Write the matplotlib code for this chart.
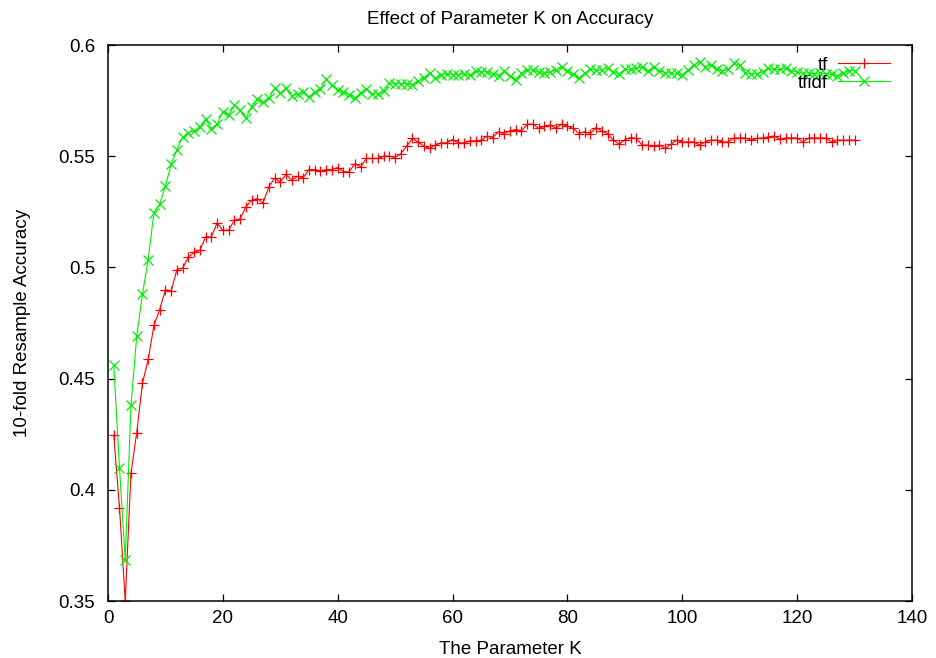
import matplotlib
matplotlib.use("Agg")
import matplotlib.pyplot as plt
from matplotlib.ticker import FuncFormatter

plt.rcParams['font.family'] = ['Liberation Sans', 'DejaVu Sans']

k_values = list(range(1, 131))

tf_acc = [
    0.4246, 0.392, 0.350, 0.4075, 0.4257, 0.448, 0.4586, 0.4739, 0.481, 0.490,
    0.4893, 0.499, 0.4997, 0.5046, 0.5068, 0.5077, 0.5137, 0.5137, 0.520, 0.5167,
    0.5167, 0.5212, 0.5218, 0.5272, 0.5302, 0.5309, 0.529, 0.5362, 0.5401, 0.5384,
    0.5418, 0.5392, 0.541, 0.5404, 0.544, 0.544, 0.5434, 0.544, 0.544, 0.5449,
    0.543, 0.543, 0.5467, 0.5452, 0.549, 0.549, 0.549, 0.550, 0.550, 0.5494,
    0.5512, 0.5545, 0.558, 0.5564, 0.5545, 0.5535, 0.555, 0.556, 0.556, 0.5575,
    0.556, 0.556, 0.5569, 0.5569, 0.5572, 0.559, 0.5584, 0.561, 0.5602, 0.5614,
    0.562, 0.5614, 0.5644, 0.5644, 0.5625, 0.5635, 0.564, 0.5625, 0.5644, 0.5635,
    0.5625, 0.5602, 0.561, 0.5602, 0.5629, 0.5614, 0.560, 0.5572, 0.5554, 0.5575,
    0.5584, 0.558, 0.555, 0.555, 0.5545, 0.555, 0.5535, 0.5553, 0.5572, 0.5564,
    0.5564, 0.5564, 0.555, 0.5564, 0.5572, 0.5572, 0.5564, 0.5564, 0.5582, 0.5582,
    0.5582, 0.5572, 0.558, 0.5582, 0.5587, 0.5591, 0.5577, 0.5582, 0.5582, 0.5582,
    0.5564, 0.5582, 0.5582, 0.5582, 0.5582, 0.5564, 0.5572, 0.5572, 0.5572, 0.5572,
]

tfidf_acc = [
    0.4563, 0.410, 0.3685, 0.438, 0.469, 0.488, 0.5035, 0.5246, 0.5284, 0.5365,
    0.5464, 0.553, 0.5587, 0.5605, 0.5614, 0.563, 0.5668, 0.5623, 0.5644, 0.570,
    0.5685, 0.5728, 0.5707, 0.567, 0.5722, 0.5755, 0.5743, 0.576, 0.5805, 0.5785,
    0.5805, 0.5771, 0.5779, 0.5788, 0.5767, 0.5788, 0.5803, 0.5846, 0.5818, 0.5797,
    0.5788, 0.5777, 0.576, 0.5786, 0.5803, 0.5781, 0.5779, 0.5792, 0.583, 0.5826,
    0.5826, 0.5826, 0.5822, 0.5837, 0.5852, 0.5874, 0.585, 0.5863, 0.5871, 0.5867,
    0.5867, 0.5871, 0.5863, 0.5881, 0.588, 0.588, 0.5868, 0.5862, 0.5883, 0.5862,
    0.5842, 0.5872, 0.5887, 0.5887, 0.5877, 0.5872, 0.588, 0.5887, 0.5902, 0.5883,
    0.5868, 0.585, 0.5872, 0.5892, 0.5887, 0.5887, 0.5898, 0.5878, 0.587, 0.589,
    0.589, 0.5895, 0.5902, 0.5884, 0.590, 0.5884, 0.5875, 0.5875, 0.5872, 0.5865,
    0.5887, 0.591, 0.5925, 0.5902, 0.591, 0.589, 0.5884, 0.589, 0.5917, 0.591,
    0.5875, 0.5869, 0.587, 0.588, 0.5895, 0.589, 0.589, 0.5895, 0.5884, 0.588,
    0.5872, 0.5875, 0.5869, 0.5875, 0.5869, 0.5869, 0.586, 0.5872, 0.5884, 0.5884,
]

x_ticks = [0, 20, 40, 60, 80, 100, 120, 140]
y_ticks = [0.35, 0.4, 0.45, 0.5, 0.55, 0.6]

FS = 13.5

fig = plt.figure(figsize=(9.36, 6.58), dpi=100)
ax = fig.add_axes([108/936, 1 - 601/658, (912 - 108)/936, (601 - 45)/658])

l_tf, = ax.plot(k_values, tf_acc, color='#ff0000', marker='+', markersize=7,
                markeredgewidth=0.9, linewidth=0.8, label='tf')
l_tfidf, = ax.plot(k_values, tfidf_acc, color='#00ee00', marker='x', markersize=6.5,
                   markeredgewidth=0.9, linewidth=0.8, label='tfidf')

ax.set_xlim(0, 140)
ax.set_ylim(0.35, 0.6)
ax.set_xticks(x_ticks)
ax.set_yticks(y_ticks)
ax.yaxis.set_major_formatter(FuncFormatter(lambda v, p: ('%g' % v)))
ax.tick_params(direction='in', length=5, width=0.9, top=True, right=True,
               labelsize=FS, colors='black')
ax.tick_params(axis='y', pad=9.3)
ax.tick_params(axis='x', pad=6.5)
for s in ax.spines.values():
    s.set_linewidth(1.1)

ax.set_title('Effect of Parameter K on Accuracy', fontsize=FS, pad=15)
ax.set_xlabel('The Parameter K', fontsize=FS, labelpad=10)
ax.set_ylabel('10-fold Resample Accuracy', fontsize=FS, labelpad=20)

common = dict(loc='center right', frameon=False, markerfirst=False, numpoints=1,
              handlelength=2.77, handletextpad=0.53, fontsize=FS,
              borderaxespad=0, borderpad=0)
leg1 = ax.legend(handles=[l_tf], bbox_to_anchor=(0.9726, 0.9640), **common)
ax.add_artist(leg1)
leg2 = ax.legend(handles=[l_tfidf], bbox_to_anchor=(0.9726, 0.9317), **common)

fig.savefig('out.png', dpi=100)
